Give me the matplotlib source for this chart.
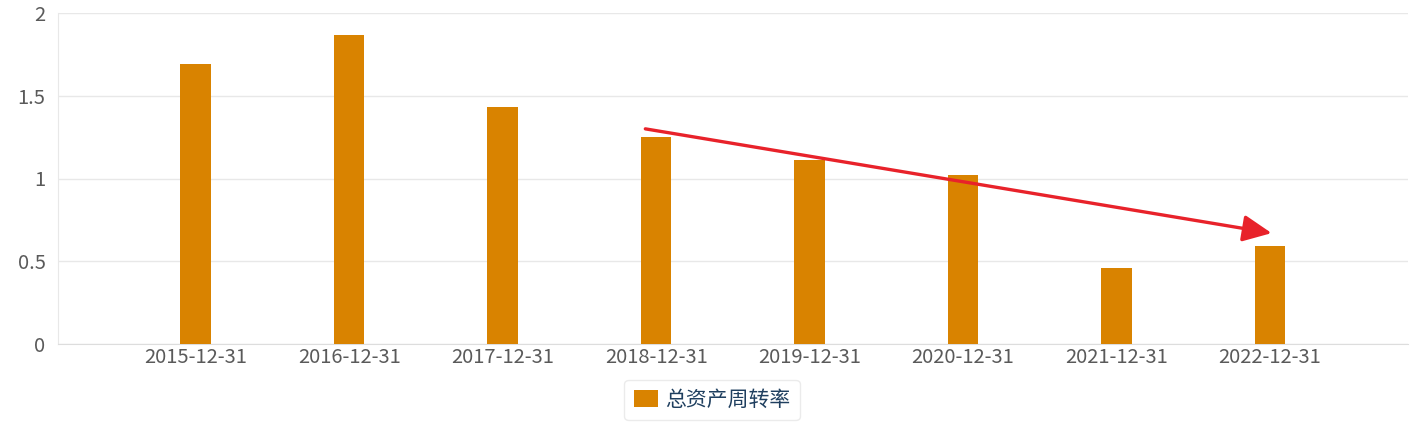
import matplotlib.pyplot as plt
from matplotlib.patches import FancyArrowPatch

plt.rcParams['font.family'] = ['Noto Sans CJK SC', 'DejaVu Sans']

dates = ['2015-12-31', '2016-12-31', '2017-12-31', '2018-12-31',
         '2019-12-31', '2020-12-31', '2021-12-31', '2022-12-31']
turnover = [1.69, 1.87, 1.43, 1.25, 1.11, 1.02, 0.46, 0.59]
series_name = '总资产周转率'

# trend arrow drawn over the bars (start / end in data coords)
arrow_start = (2.93, 1.30)
arrow_end = (7.01, 0.67)

fig = plt.figure(figsize=(14.23, 4.25), dpi=100)
ax = fig.add_axes([0.0408, 0.1906, 0.9487, 0.7788])

x = range(len(dates))
ax.bar(x, turnover, width=0.2, color='#d98300', label=series_name, zorder=3)

ax.set_xlim(-0.896, 7.899)
ax.set_ylim(0, 2)
ax.set_yticks([0, 0.5, 1, 1.5, 2])
ax.set_yticklabels(['0', '0.5', '1', '1.5', '2'])
ax.set_xticks(list(x))
ax.set_xticklabels(dates)

ax.grid(axis='y', color='#e8e8e8', linewidth=1, zorder=0)
for side in ['top', 'right']:
    ax.spines[side].set_visible(False)
ax.spines['left'].set_color('#e8e8e8')
ax.spines['bottom'].set_color('#dddddd')
ax.tick_params(axis='both', length=0, labelsize=14.5, colors='#5a5a5a')
ax.tick_params(axis='x', pad=2)
ax.tick_params(axis='y', pad=9)

arrow = FancyArrowPatch(arrow_start, arrow_end, arrowstyle='-|>,head_length=1.4,head_width=0.65',
                        mutation_scale=12.5, color='#e8222a', linewidth=2.4, zorder=5,
                        shrinkA=0, shrinkB=0)
ax.add_patch(arrow)

leg = fig.legend(loc='center', bbox_to_anchor=(712 / 1423, 1 - 400 / 425),
                 frameon=True, fontsize=15, handlelength=1.15, handleheight=0.85,
                 handletextpad=0.35, borderpad=0.45, fancybox=True)
leg.get_frame().set_edgecolor('#e6e6e6')
leg.get_frame().set_linewidth(1)
for t in leg.get_texts():
    t.set_color('#1f3f5f')

fig.savefig('out.png', dpi=100)
